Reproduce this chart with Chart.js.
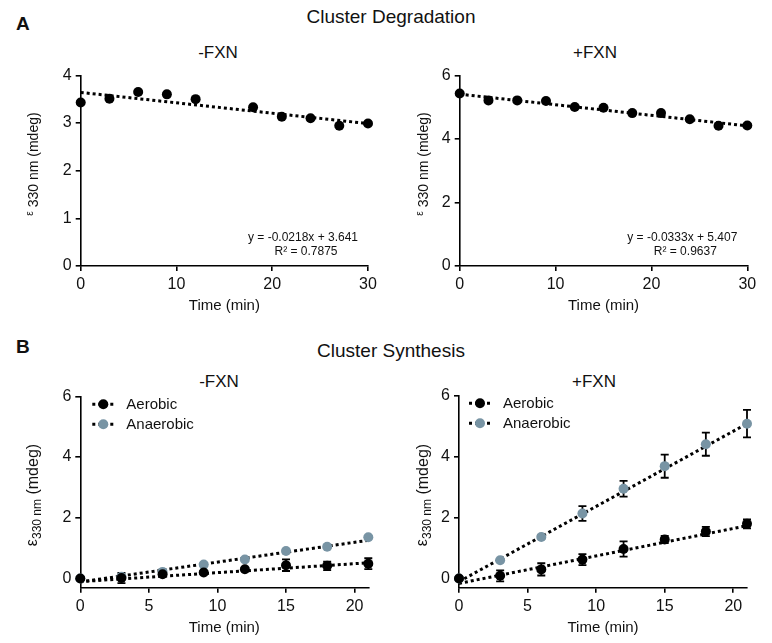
<!DOCTYPE html>
<html><head><meta charset="utf-8">
<script src="https://cdn.jsdelivr.net/npm/chart.js@4.4.1/dist/chart.umd.min.js"></script>
<style>
body{margin:0;background:#fff;width:772px;height:643px;position:relative;overflow:hidden;font-family:"Liberation Sans",Arial,sans-serif;}
canvas{position:absolute;}
.t{position:absolute;color:#111;white-space:nowrap;text-align:center;width:300px;line-height:1;}
.b{font-weight:bold;text-align:left;}
</style></head><body>
<div class="t b" style="left:16px;top:14px;font-size:19px;">A</div>
<div class="t" style="left:241px;top:7px;font-size:19px;">Cluster Degradation</div>
<div class="t" style="left:68px;top:44px;font-size:17px;">-FXN</div>
<div class="t" style="left:445px;top:44px;font-size:17px;">+FXN</div>
<div class="t b" style="left:16px;top:337px;font-size:19px;">B</div>
<div class="t" style="left:241px;top:341px;font-size:19px;">Cluster Synthesis</div>
<div class="t" style="left:69px;top:373px;font-size:17px;">-FXN</div>
<div class="t" style="left:444px;top:373px;font-size:17px;">+FXN</div>
<canvas id="c1" width="390" height="260" style="left:0;top:60px"></canvas>
<canvas id="c2" width="382" height="260" style="left:390px;top:60px"></canvas>
<canvas id="c3" width="390" height="303" style="left:0;top:340px"></canvas>
<canvas id="c4" width="382" height="303" style="left:390px;top:340px"></canvas>
<script>
// ---- Data ----
const degTimeMinus = [0, 3, 6, 9, 12, 18, 21, 24, 27, 30];
const degMinus = [3.43, 3.51, 3.65, 3.60, 3.50, 3.33, 3.13, 3.10, 2.94, 2.99];
const degTimePlus = [0, 3, 6, 9, 12, 15, 18, 21, 24, 27, 30];
const degPlus = [5.43, 5.21, 5.21, 5.19, 5.00, 4.98, 4.81, 4.81, 4.62, 4.41, 4.42];
const degFitX = [0, 30];
const degMinusFit = [3.641, 2.987];
const degPlusFit = [5.407, 4.408];
const degMinusEq = ['y = -0.0218x + 3.641', 'R\u00B2 = 0.7875'];
const degPlusEq = ['y = -0.0333x + 5.407', 'R\u00B2 = 0.9637'];

const synTime = [0, 3, 6, 9, 12, 15, 18, 21];
const synMinusAer = [0, 0.02, 0.14, 0.20, 0.31, 0.44, 0.42, 0.49];
const synMinusAerErr = [0, 0.17, 0.05, 0.05, 0.05, 0.19, 0.14, 0.18];
const synMinusAna = [0, 0.06, 0.22, 0.46, 0.63, 0.91, 1.05, 1.36];
const synMinusAnaErr = [0, 0, 0, 0, 0, 0, 0, 0];
const synPlusAer = [0, 0.09, 0.30, 0.62, 0.97, 1.28, 1.54, 1.79];
const synPlusAerErr = [0, 0.18, 0.20, 0.18, 0.25, 0.12, 0.15, 0.15];
const synPlusAna = [0, 0.60, 1.36, 2.13, 2.94, 3.68, 4.40, 5.07];
const synPlusAnaErr = [0, 0, 0.05, 0.24, 0.26, 0.38, 0.38, 0.45];
const synFitX = [0, 21];
const synMinusAerFit = [-0.10, 0.52];
const synMinusAnaFit = [-0.11, 1.26];
const synPlusAerFit = [-0.16, 1.73];
const synPlusAnaFit = [-0.10, 5.07];
const seriesNames = ['Aerobic', 'Anaerobic'];
const degTicksX = [0, 10, 20, 30];
const synTicksX = [0, 5, 10, 15, 20];
const synTicksY = [0, 2, 4, 6];

const BLACK = '#000000';
const GREY = '#7894a4';
const FONT = '"Liberation Sans", Arial, sans-serif';

function pts(xs, ys){ return xs.map((x,i)=>({x:x, y:ys[i]})); }

const extrasCfg = {};

const extras = {
  id: 'extras',
  beforeDatasetsDraw(chart){
    const ctx = chart.ctx, xs = chart.scales.x, ys = chart.scales.y;
    chart.data.datasets.forEach(ds=>{
      if(!ds.errors) return;
      ctx.save();
      ctx.strokeStyle = BLACK; ctx.lineWidth = 1.8;
      ds.data.forEach((p,i)=>{
        const e = ds.errors[i];
        if(!e) return;
        const x = xs.getPixelForValue(p.x);
        const y1 = ys.getPixelForValue(p.y + e), y2 = ys.getPixelForValue(p.y - e);
        ctx.beginPath();
        ctx.moveTo(x, y1); ctx.lineTo(x, y2);
        ctx.moveTo(x-4, y1); ctx.lineTo(x+4, y1);
        ctx.moveTo(x-4, y2); ctx.lineTo(x+4, y2);
        ctx.stroke();
      });
      ctx.restore();
    });
  },
  afterDraw(chart){
    const o = extrasCfg[chart.canvas.id];
    if(!o) return;
    const ctx = chart.ctx, ca = chart.chartArea;
    ctx.save();
    ctx.fillStyle = '#111';
    // y title
    if(o.ytitle){
      let total = 0;
      const widths = o.ytitle.map(p=>{ ctx.font = p.size + 'px ' + FONT; const w = ctx.measureText(p.t).width; total += w; return w; });
      ctx.save();
      ctx.translate(o.ytx, o.yty);
      ctx.rotate(-Math.PI/2);
      ctx.textAlign = 'left';
      ctx.textBaseline = 'alphabetic';
      let x = -total/2;
      o.ytitle.forEach((p,i)=>{
        ctx.font = p.size + 'px ' + FONT;
        ctx.fillText(p.t, x, 5 + (p.shift||0));
        x += widths[i];
      });
      ctx.restore();
    }
    // equation
    if(o.eq){
      ctx.font = '12px ' + FONT;
      ctx.textAlign = 'center'; ctx.textBaseline = 'middle';
      ctx.fillText(o.eq[0], ca.right - 65, ca.bottom - 28.5);
      ctx.fillText(o.eq[1], ca.right - 62, ca.bottom - 14.5);
    }
    // legend
    if(o.legend){
      const cols = [BLACK, GREY];
      ctx.font = '15px ' + FONT;
      ctx.textAlign = 'left'; ctx.textBaseline = 'middle';
      o.legend.forEach((name,i)=>{
        const y = ca.top + 8 + i*20;
        const x0 = ca.left + o.lx;
        ctx.save();
        ctx.strokeStyle = BLACK; ctx.lineWidth = 3; ctx.setLineDash([3,3]);
        ctx.beginPath(); ctx.moveTo(x0, y); ctx.lineTo(x0+21, y); ctx.stroke();
        ctx.restore();
        ctx.beginPath(); ctx.fillStyle = cols[i]; ctx.arc(x0+11, y, 5, 0, Math.PI*2); ctx.fill();
        ctx.fillStyle = '#111';
        ctx.fillText(name, x0 + 34, y + 0.5);
      });
    }
    ctx.restore();
  }
};

function axisCommon(){
  return {
    border: {display:true, color: BLACK, width: 1.6},
    grid: {drawOnChartArea:false, drawTicks:true, tickLength:5, color: BLACK, lineWidth:1.6},
    ticks: {color:'#111', font:{family:FONT, size:16}, padding:4}
  };
}

function makeChart(id, cfg){
  extrasCfg[id] = {ytitle:cfg.ytitle, ytx:33, yty:cfg.yty, eq:cfg.eq, legend:cfg.legend, lx:cfg.lx};
  const x = axisCommon(), y = axisCommon();
  Object.assign(x, {type:'linear', min:cfg.xmin, max:cfg.xmax,
    afterBuildTicks: s=>{ s.ticks = cfg.xticks.map(v=>({value:v})); },
    afterFit: s=>{ s.height = cfg.xh; },
    title:{display:true, text:'Time (min)', color:'#111', font:{family:FONT, size:15}, padding:{top:0,bottom:cfg.xtp}}
  });
  x.ticks.maxRotation = 0;
  Object.assign(y, {type:'linear', min:cfg.ymin, max:cfg.ymax,
    afterBuildTicks: s=>{ s.ticks = cfg.yticks.map(v=>({value:v})); },
    afterFit: s=>{ s.width = cfg.yw; }
  });
  return new Chart(document.getElementById(id), {
    type:'scatter',
    data:{datasets: cfg.datasets},
    options:{
      responsive:false, animation:false, devicePixelRatio:1,
      layout:{padding:{top:cfg.pt, right:cfg.pr, bottom:0, left:0}},
      scales:{x:x, y:y},
      plugins:{legend:{display:false}, tooltip:{enabled:false}}
    },
    plugins:[extras]
  });
}

function pointDs(label, xs, ys, color, order, errs){
  return {label:label, data:pts(xs,ys), backgroundColor:color, borderColor:color, borderWidth:0,
    pointRadius:5, pointHoverRadius:5, showLine:false, order:order, errors:errs, clip:false};
}
function fitDs(xs, ys, order){
  return {label:'fit', data:pts(xs,ys), borderColor:BLACK, borderWidth:3, borderDash:[3,3],
    pointRadius:0, showLine:true, fill:false, order:order, clip:false};
}

const titleA = [{t:'\u03B5', size:10, shift:-5},{t:' 330 nm (mdeg)', size:14}];
const titleB = [{t:'\u03B5', size:16, shift:-1},{t:'330 nm', size:12, shift:3},{t:' (mdeg)', size:16}];

makeChart('c1', {xmin:0,xmax:30,xticks:degTicksX,ymin:0,ymax:4,yticks:[0,1,2,3,4],
  xh:54, xtp:5, yw:80.7, pt:15.3, pr:22, ytitle:titleA, yty:104, eq:degMinusEq,
  datasets:[pointDs('-FXN', degTimeMinus, degMinus, BLACK, 0), fitDs(degFitX, degMinusFit, 2)]});
makeChart('c2', {xmin:0,xmax:30,xticks:degTicksX,ymin:0,ymax:6,yticks:[0,2,4,6],
  xh:54, xtp:5, yw:69.7, pt:15.3, pr:24.7, ytitle:titleA, yty:104, eq:degPlusEq,
  datasets:[pointDs('+FXN', degTimePlus, degPlus, BLACK, 0), fitDs(degFitX, degPlusFit, 2)]});
makeChart('c3', {xmin:0,xmax:21,xticks:synTicksX,ymin:-0.3,ymax:6,yticks:synTicksY,
  xh:55.3, xtp:5.7, yw:80.3, pt:56.3, pr:21.7, ytitle:titleB, yty:155, legend:seriesNames, lx:12,
  datasets:[pointDs(seriesNames[0], synTime, synMinusAer, BLACK, 0, synMinusAerErr),
            pointDs(seriesNames[1], synTime, synMinusAna, GREY, 1, synMinusAnaErr),
            fitDs(synFitX, synMinusAerFit, 2), fitDs(synFitX, synMinusAnaFit, 3)]});
makeChart('c4', {xmin:0,xmax:21,xticks:synTicksX,ymin:-0.3,ymax:6,yticks:synTicksY,
  xh:55.3, xtp:5.7, yw:69, pt:55.3, pr:25, ytitle:titleB, yty:155, legend:seriesNames, lx:10,
  datasets:[pointDs(seriesNames[0], synTime, synPlusAer, BLACK, 0, synPlusAerErr),
            pointDs(seriesNames[1], synTime, synPlusAna, GREY, 1, synPlusAnaErr),
            fitDs(synFitX, synPlusAerFit, 2), fitDs(synFitX, synPlusAnaFit, 3)]});
</script>
</body></html>
